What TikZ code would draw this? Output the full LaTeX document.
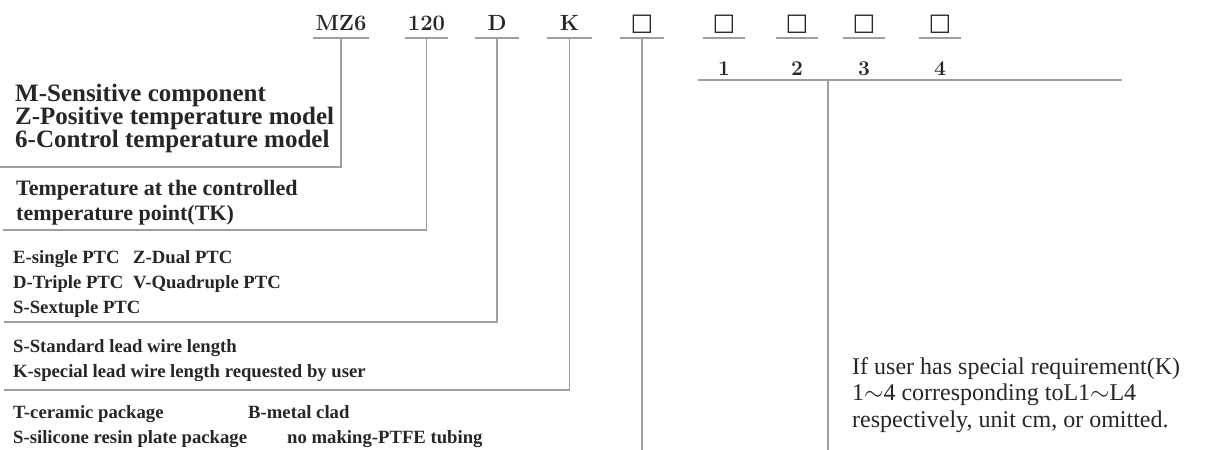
\documentclass[tikz,border=0pt]{standalone}
\usepackage{fontspec}
\newfontfamily\refserif{Liberation Serif}
\newfontfamily\symfont{DejaVu Sans}
\usetikzlibrary{positioning}
\definecolor{ptcText}{HTML}{262626}
\definecolor{ptcLine}{HTML}{9E9E9E}
\newcommand{\fsz}[2]{\fontsize{#1}{#2}\selectfont}

\begin{document}
\begin{tikzpicture}[x=1pt,y=-1pt,
  code/.style={anchor=south, text=ptcText, inner xsep=0pt, inner ysep=7pt,
    text depth=0pt, font=\bfseries\fsz{22}{22}},
  sqbox/.style={code, font=\symfont\fsz{24}{24}},
  num/.style={anchor=base, text=ptcText, inner sep=0pt, font=\bfseries\fsz{21}{21}},
  ruler/.style={draw=ptcLine, line width=1.6pt},
  legend/.style={anchor=base west, align=left, inner sep=0pt, text=ptcText}]
  \useasboundingbox (0,0) rectangle (1211,450);

  % model code
  \node[code, minimum width=56pt] (mz) at (341,38) {MZ6};
  \node[code, minimum width=43pt] (tk) at (426.5,38) {120};
  \node[code, minimum width=43pt] (nc) at (497,38) {D};
  \node[code, minimum width=45pt] (ld) at (569.5,38) {K};
  \node[sqbox, minimum width=43pt] (pk) at (642,38) {□};
  \foreach \n in {mz,tk,nc,ld,pk}
    \draw[ruler] (\n.south west) -- (\n.south east);

  \foreach \i/\x in {1/724,2/797,3/864,4/940} {
    \node[sqbox, minimum width=42pt] (q\i) at (\x,38) {□};
    \draw[ruler] (q\i.south west) -- (q\i.south east);
    \node[num] (n\i) at (\x,75) {\i};
  }

  % leader lines
  \coordinate (e1) at (0,167);
  \coordinate (e2) at (3,230);
  \coordinate (e3) at (4,322);
  \coordinate (e4) at (4,390);
  \coordinate (e5) at (642,450);
  \draw[ruler] (mz.south) |- (e1);
  \draw[ruler] (tk.south) |- (e2);
  \draw[ruler] (nc.south) |- (e3);
  \draw[ruler] (ld.south) |- (e4);
  \draw[ruler] (pk.south) -- (e5);

  \coordinate (sl) at (698,80);
  \coordinate (sr) at (1122,80);
  \coordinate (sm) at (828,80);
  \coordinate (sb) at (828,450);
  \draw[ruler] (sl) -- (sr);
  \draw[ruler] (sm) -- (sb);

  % legends (placed at the baseline of their last line)
  \node[legend, font=\refserif\bfseries\fsz{25}{23}] (t1) at (15,147.5)
    {M-Sensitive component\\Z-Positive temperature model\\6-Control temperature model};
  \node[legend, font=\refserif\bfseries\fsz{22}{25}] (t2) at (16,220)
    {Temperature at the controlled\\temperature point(TK)};
  \node[legend, font=\refserif\bfseries\fsz{18.7}{25}] (t3) at (13,313)
    {E-single PTC\\D-Triple PTC\\S-Sextuple PTC};
  \node[legend, font=\refserif\bfseries\fsz{18.7}{25}] (t3b) at (133,288)
    {Z-Dual PTC\\V-Quadruple PTC};
  \node[legend, font=\refserif\bfseries\fsz{18.7}{25}] (t4) at (13,377)
    {S-Standard lead wire length\\K-special lead wire length requested by user};
  \node[legend, font=\refserif\bfseries\fsz{18.7}{25}] (t5) at (13,443)
    {T-ceramic package\\S-silicone resin plate package};
  \node[legend, font=\refserif\bfseries\fsz{18.7}{25}] (t5b) at (248,418) {B-metal clad};
  \node[legend, font=\refserif\bfseries\fsz{18.7}{25}] (t5c) at (287,443) {no making-PTFE tubing};
  \node[legend, font=\refserif\fsz{24}{26.5}] (note) at (852,427)
    {If user has special requirement(K)\\1$\sim$4 corresponding toL1$\sim$L4\\respectively, unit cm, or omitted.};
\end{tikzpicture}
\end{document}
